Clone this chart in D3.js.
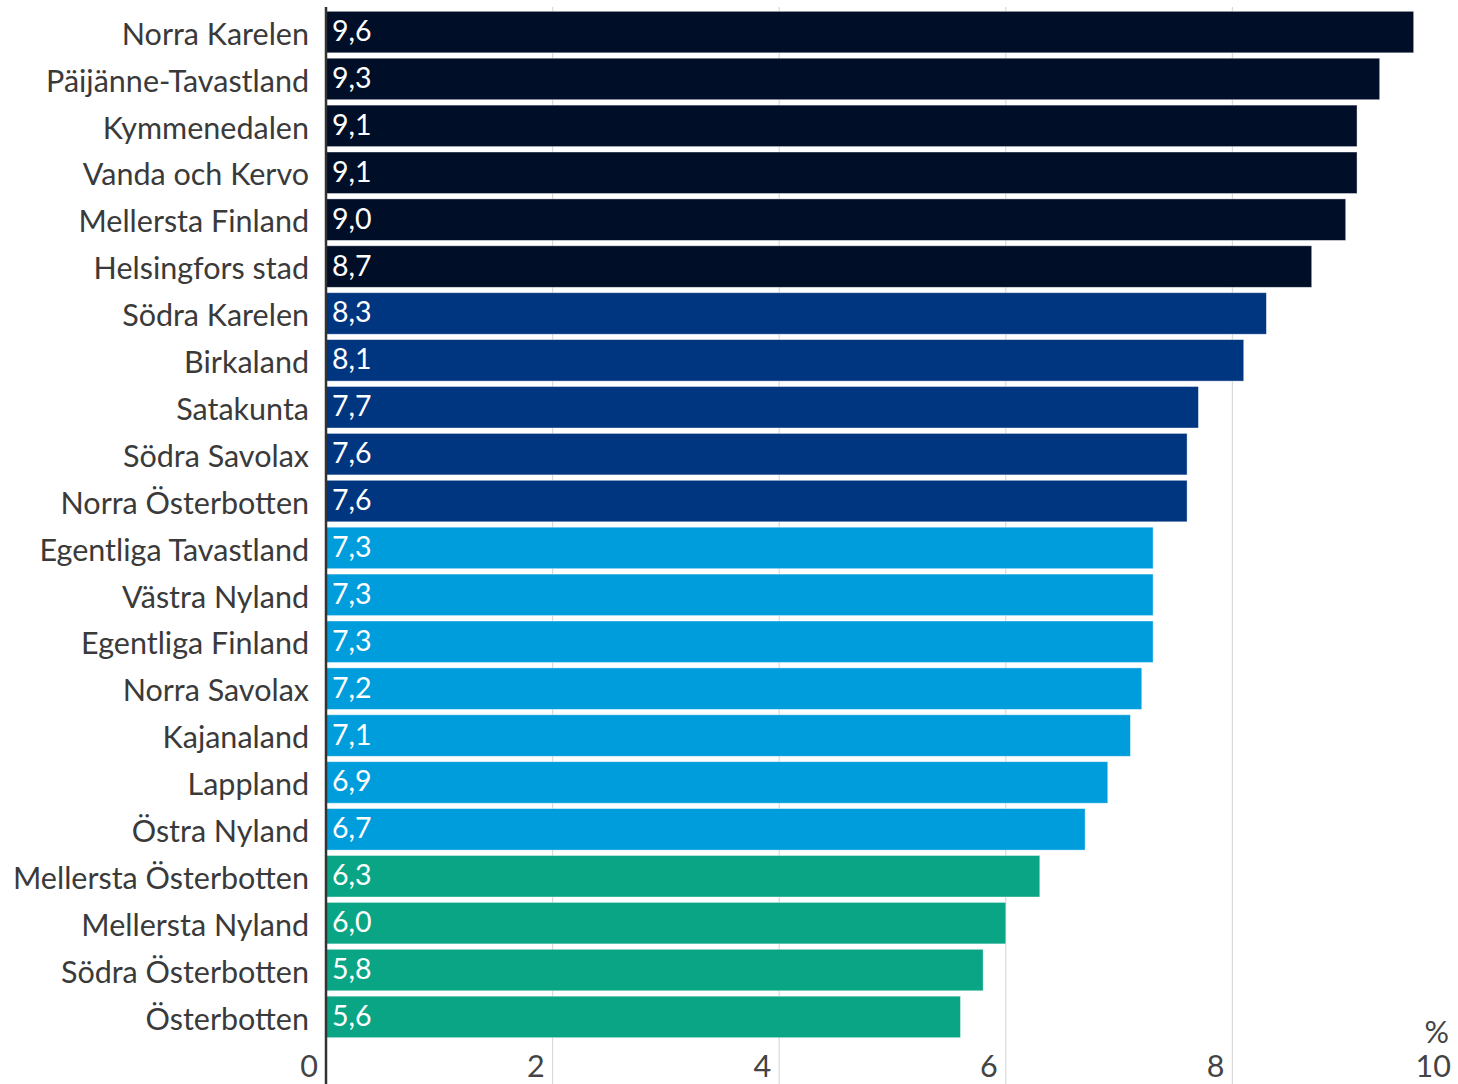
<!DOCTYPE html>
<html>
<head>
<meta charset="utf-8">
<script src="https://cdn.jsdelivr.net/npm/d3@7"></script>
<style>
  html, body { margin: 0; padding: 0; background: #fff; }
  svg { display: block; font-family: Lato, "Open Sans", sans-serif; }
</style>
</head>
<body>
<svg id="chart" width="1458" height="1084"></svg>
<script>
// Regions, sorted from highest to lowest share (%)
const regions = [
  "Norra Karelen", "Päijänne-Tavastland", "Kymmenedalen", "Vanda och Kervo",
  "Mellersta Finland", "Helsingfors stad", "Södra Karelen", "Birkaland",
  "Satakunta", "Södra Savolax", "Norra Österbotten", "Egentliga Tavastland",
  "Västra Nyland", "Egentliga Finland", "Norra Savolax", "Kajanaland",
  "Lappland", "Östra Nyland", "Mellersta Österbotten", "Mellersta Nyland",
  "Södra Österbotten", "Österbotten"
];
const values = [
  9.6, 9.3, 9.1, 9.1, 9.0, 8.7, 8.3, 8.1, 7.7, 7.6, 7.6,
  7.3, 7.3, 7.3, 7.2, 7.1, 6.9, 6.7, 6.3, 6.0, 5.8, 5.6
];
// Colour group of each region (0 = highest band ... 3 = lowest band)
const groups = [
  0, 0, 0, 0, 0, 0, 1, 1, 1, 1, 1,
  2, 2, 2, 2, 2, 2, 2, 3, 3, 3, 3
];
const groupColors = ["#000e27", "#003580", "#009ddc", "#0aa585"];
const xTicks = [0, 2, 4, 6, 8, 10];
const unitLabel = "%";

const data = regions.map((r, i) => ({ region: r, value: values[i], group: groups[i] }));

const svg = d3.select("#chart");
const plotLeft = 326, plotRight = 1459, plotTop = 7, plotBottom = 1084;

const x = d3.scaleLinear().domain([0, 10]).range([plotLeft, plotRight]);
const y = d3.scaleBand()
  .domain(regions)
  .range([8.5, 1040.5])
  .paddingInner(0.115)
  .paddingOuter(0.06);

// Vertical gridlines
svg.append("g")
  .selectAll("line")
  .data(xTicks.filter(t => t > 0))
  .join("line")
  .attr("x1", d => x(d)).attr("x2", d => x(d))
  .attr("y1", plotTop).attr("y2", plotBottom)
  .attr("stroke", "#d9d9d9")
  .attr("stroke-width", 1.2);

// Bars
svg.append("g")
  .selectAll("rect")
  .data(data)
  .join("rect")
  .attr("x", x(0))
  .attr("y", d => y(d.region))
  .attr("width", d => x(d.value) - x(0))
  .attr("height", y.bandwidth())
  .attr("fill", d => groupColors[d.group])
  .attr("stroke", "rgba(255,255,255,0.5)")
  .attr("stroke-width", 0.8);

// Value labels inside bars
svg.append("g")
  .selectAll("text")
  .data(data)
  .join("text")
  .attr("x", x(0) + 6)
  .attr("y", d => y(d.region) + y.bandwidth() / 2 - 1)
  .attr("dy", "0.35em")
  .attr("fill", "#ffffff")
  .attr("font-size", 28.5)
  .text(d => d3.format(".1f")(d.value).replace(".", ","));

// Category labels
svg.append("g")
  .selectAll("text")
  .data(data)
  .join("text")
  .attr("x", 309)
  .attr("y", d => y(d.region) + y.bandwidth() / 2 + 2)
  .attr("dy", "0.35em")
  .attr("text-anchor", "end")
  .attr("fill", "#3a3a3a")
  .attr("font-size", 30.5)
  .text(d => d.region);

// Zero axis line
svg.append("line")
  .attr("x1", x(0)).attr("x2", x(0))
  .attr("y1", plotTop).attr("y2", plotBottom)
  .attr("stroke", "#333")
  .attr("stroke-width", 2.5);

// Tick labels, set just left of each gridline
svg.append("g")
  .selectAll("text")
  .data(xTicks)
  .join("text")
  .attr("x", d => x(d) - 8)
  .attr("y", 1077)
  .attr("text-anchor", "end")
  .attr("fill", "#444")
  .attr("font-size", 30.5)
  .text(d => d);

// Unit label above the last tick
svg.append("text")
  .attr("x", x(10) - 10)
  .attr("y", 1043)
  .attr("text-anchor", "end")
  .attr("fill", "#444")
  .attr("font-size", 30.5)
  .text(unitLabel);
</script>
</body>
</html>
